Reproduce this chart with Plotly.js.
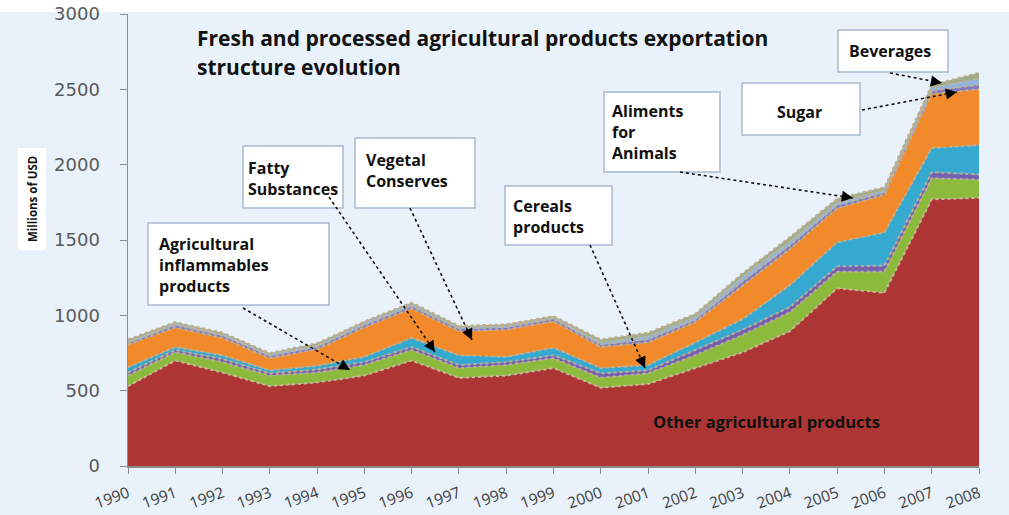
<!DOCTYPE html>
<html><head><meta charset="utf-8">
<script src="https://cdn.plot.ly/plotly-3.0.1.min.js"></script>
<style>html,body{margin:0;padding:0;background:#e9f1fb;}</style>
</head><body>
<div id="chart" style="width:1009px;height:515px;"></div>
<script>
const years = [1990,1991,1992,1993,1994,1995,1996,1997,1998,1999,2000,2001,2002,2003,2004,2005,2006,2007,2008];
const otherAgri    = [530,700,620,530,555,600,700,585,600,650,520,545,650,755,895,1180,1150,1770,1780];
const inflammables = [70,55,70,70,65,70,70,65,70,65,65,70,85,115,125,110,140,140,120];
const fattySubst   = [20,15,20,15,20,20,20,20,20,20,30,20,35,35,35,35,40,40,35];
const cereals      = [35,20,25,20,25,35,60,65,35,50,35,35,50,70,145,160,220,160,195];
const vegetal      = [150,130,115,80,110,195,195,160,180,175,140,150,135,225,240,225,250,360,370];
const aliments     = [10,15,15,15,15,15,15,15,15,15,15,20,15,25,25,20,15,20,30];
const sugar        = [10,10,10,10,10,15,15,10,10,10,15,20,20,30,25,20,15,20,40];
const beverages    = [15,10,10,10,15,10,10,10,10,10,20,25,20,25,30,25,20,20,40];

const seriesNames = ['Other agricultural products','Agricultural inflammables products','Fatty Substances','Cereals products','Vegetal Conserves','Aliments for Animals','Sugar','Beverages'];
const seriesVals = [otherAgri,inflammables,fattySubst,cereals,vegetal,aliments,sugar,beverages];
const colors = ['#ad3534','#8cba3c','#7462ae','#35a9cf','#f28a2c','#7f78c2','#8fb6e0','#9fae88'];

const traces = seriesVals.map((v,i)=>({
  type:'scatter', mode:'lines', x:years, y:v, name:seriesNames[i],
  stackgroup:'one', fillcolor:colors[i],
  line:{color:i===0?'#c9b79a':'#bfae90', width:2, dash:'dot'},
  hoverinfo:'x+y+name'
}));

// layout helpers: pixel -> paper (plot area 128..979 x 14..466)
const L=128,R=979,T=14,B=466;
const PX = p => (p-L)/(R-L);
const PY = p => (B-p)/(B-T);
const FONT = 'Open Sans, sans-serif';

const boxes = [
  {x:838,y:30,w:110,h:42,t:'Beverages',tx:890,ty:51,al:'center'},
  {x:742,y:83,w:118,h:52,t:'Sugar',tx:799,ty:112,al:'center'},
  {x:604,y:92,w:116,h:80,t:'Aliments<br>for<br>Animals',tx:610,ty:132,al:'left'},
  {x:505,y:186,w:107,h:59,t:'Cereals<br>products',tx:511,ty:216,al:'left'},
  {x:355,y:138,w:120,h:70,t:'Vegetal<br>Conserves',tx:364,ty:170,al:'left'},
  {x:243,y:146,w:100,h:62,t:'Fatty<br>Substances',tx:246,ty:179,al:'left'},
  {x:148,y:223,w:181,h:82,t:'Agricultural<br>inflammables<br>products',tx:157,ty:265,al:'left'}
];
const arrows = [
  {x0:243,y0:308,x1:350,y1:370},
  {x0:329,y0:197,x1:435,y1:352},
  {x0:410,y0:208,x1:472,y1:340},
  {x0:590,y0:245,x1:645,y1:368},
  {x0:680,y0:172,x1:853,y1:198},
  {x0:862,y0:110,x1:957,y1:92},
  {x0:890,y0:73,x1:942,y1:83}
];

const shapes = [
  {type:'rect',xref:'paper',yref:'paper',x0:PX(0),x1:PX(1009),y0:PY(12),y1:PY(0),fillcolor:'#ffffff',line:{width:0},layer:'below'},
  {type:'rect',xref:'paper',yref:'paper',x0:PX(18),x1:PX(46),y0:PY(250),y1:PY(148),fillcolor:'#ffffff',line:{width:0},layer:'below'}
];
const annotations = [];
boxes.forEach(b=>{
  shapes.push({type:'rect',xref:'paper',yref:'paper',x0:PX(b.x),x1:PX(b.x+b.w),y0:PY(b.y+b.h),y1:PY(b.y),
    fillcolor:'#ffffff',line:{color:'#a9b9d0',width:1.5},layer:'above'});
  annotations.push({xref:'paper',yref:'paper',x:PX(b.tx),y:PY(b.ty),xanchor:b.al==='center'?'center':'left',yanchor:'middle',
    text:'<b>'+b.t+'</b>',align:b.al,showarrow:false,font:{family:FONT,size:16,color:'#111'}});
});
arrows.forEach(a=>{
  shapes.push({type:'line',xref:'paper',yref:'paper',x0:PX(a.x0),y0:PY(a.y0),x1:PX(a.x1),y1:PY(a.y1),
    line:{color:'#111',width:1.6,dash:'dot'},layer:'above'});
  const dx=a.x0-a.x1, dy=a.y0-a.y1, n=Math.hypot(dx,dy);
  annotations.push({xref:'paper',yref:'paper',x:PX(a.x1),y:PY(a.y1),ax:dx/n*12,ay:dy/n*12,text:'',showarrow:true,
    arrowhead:2,arrowsize:1.4,arrowwidth:1.6,arrowcolor:'#000'});
});
annotations.push(
  {xref:'paper',yref:'paper',x:PX(195),y:PY(38),xanchor:'left',yanchor:'middle',showarrow:false,
   text:'<b>Fresh and processed agricultural products exportation</b>',font:{family:FONT,size:21,color:'#111'}},
  {xref:'paper',yref:'paper',x:PX(195),y:PY(67),xanchor:'left',yanchor:'middle',showarrow:false,
   text:'<b>structure evolution</b>',font:{family:FONT,size:21,color:'#111'}},
  {xref:'paper',yref:'paper',x:PX(766),y:PY(421),xanchor:'center',yanchor:'middle',showarrow:false,
   text:'<b>Other agricultural products</b>',font:{family:FONT,size:16.5,color:'#111'}},
  {xref:'paper',yref:'paper',x:PX(32),y:PY(199),xanchor:'center',yanchor:'middle',showarrow:false,textangle:-90,
   text:'<b>Millions of USD</b>',font:{family:FONT,size:11.5,color:'#111'}}
);

const layout = {
  width:1009,height:515,
  margin:{l:L,r:1009-R,t:T,b:515-B},
  paper_bgcolor:'#e9f1fb',plot_bgcolor:'#e9f1fb',
  showlegend:false,
  xaxis:{range:[1990,2008],tickvals:years,ticktext:years.map(String),tickangle:-20,
    ticks:'outside',ticklen:6,tickcolor:'#8c8c8c',showline:true,linecolor:'#8c8c8c',linewidth:1.5,
    showgrid:false,zeroline:false,ticklabelstandoff:5,tickfont:{family:FONT,size:15.5,color:'#404040'}},
  yaxis:{range:[0,3000],tickvals:[0,500,1000,1500,2000,2500,3000],
    ticks:'outside',ticklen:7,tickcolor:'#8c8c8c',showline:true,linecolor:'#8c8c8c',linewidth:1.5,
    showgrid:false,zeroline:false,ticklabelstandoff:16,
    tickfont:{family:'DejaVu Sans, sans-serif',size:18,color:'#595959'}},
  shapes:shapes,annotations:annotations
};
Plotly.newPlot('chart',traces,layout,{displayModeBar:false,staticPlot:true});
</script>
</body></html>
